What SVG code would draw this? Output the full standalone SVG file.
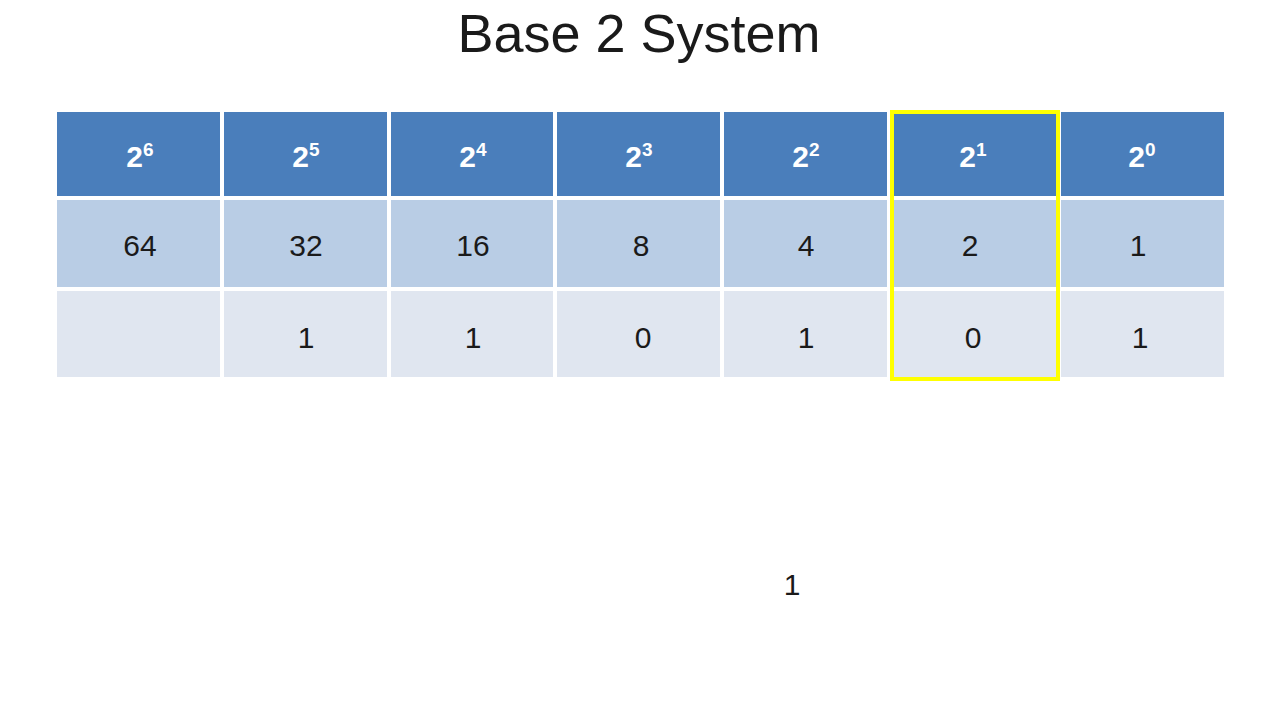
<svg xmlns="http://www.w3.org/2000/svg" width="1280" height="720" viewBox="0 0 1280 720">
<style>
.h{fill:#4a7ebb}.m{fill:#b9cde5}.l{fill:#e0e6f0}
.ht{font-family:"Liberation Sans",Arial,sans-serif;font-size:30px;font-weight:bold;fill:#fff;text-anchor:middle}
.hs{font-size:19px}
.t{font-family:"Liberation Sans",Arial,sans-serif;font-size:30px;fill:#1a1a1a;text-anchor:middle}
</style>
<rect width="1280" height="720" fill="#fff"/>
<text x="639" y="52" class="t" style="font-size:54px">Base 2 System</text>
<g id="table">
<g id="c6"><rect class="h" x="57" y="112" width="163" height="84"/><rect class="m" x="57" y="200" width="163" height="87"/><rect class="l" x="57" y="291" width="163" height="86"/><text x="140" y="167" class="ht">2<tspan class="hs" dy="-11">6</tspan></text><text x="140" y="256" class="t">64</text></g>
<g id="c5"><rect class="h" x="224" y="112" width="163" height="84"/><rect class="m" x="224" y="200" width="163" height="87"/><rect class="l" x="224" y="291" width="163" height="86"/><text x="306" y="167" class="ht">2<tspan class="hs" dy="-11">5</tspan></text><text x="306" y="256" class="t">32</text><text x="306" y="348" class="t">1</text></g>
<g id="c4"><rect class="h" x="391" y="112" width="162" height="84"/><rect class="m" x="391" y="200" width="162" height="87"/><rect class="l" x="391" y="291" width="162" height="86"/><text x="473" y="167" class="ht">2<tspan class="hs" dy="-11">4</tspan></text><text x="473" y="256" class="t">16</text><text x="473" y="348" class="t">1</text></g>
<g id="c3"><rect class="h" x="557" y="112" width="163" height="84"/><rect class="m" x="557" y="200" width="163" height="87"/><rect class="l" x="557" y="291" width="163" height="86"/><text x="639" y="167" class="ht">2<tspan class="hs" dy="-11">3</tspan></text><text x="641" y="256" class="t">8</text><text x="643" y="348" class="t">0</text></g>
<g id="c2"><rect class="h" x="724" y="112" width="163" height="84"/><rect class="m" x="724" y="200" width="163" height="87"/><rect class="l" x="724" y="291" width="163" height="86"/><text x="806" y="167" class="ht">2<tspan class="hs" dy="-11">2</tspan></text><text x="806" y="256" class="t">4</text><text x="806" y="348" class="t">1</text></g>
<g id="c1"><rect class="h" x="891" y="112" width="166" height="84"/><rect class="m" x="891" y="200" width="166" height="87"/><rect class="l" x="891" y="291" width="166" height="86"/><text x="973" y="167" class="ht">2<tspan class="hs" dy="-11">1</tspan></text><text x="970" y="256" class="t">2</text><text x="973" y="348" class="t">0</text></g>
<g id="c0"><rect class="h" x="1061" y="112" width="163" height="84"/><rect class="m" x="1061" y="200" width="163" height="87"/><rect class="l" x="1061" y="291" width="163" height="86"/><text x="1142" y="167" class="ht">2<tspan class="hs" dy="-11">0</tspan></text><text x="1138" y="256" class="t">1</text><text x="1140" y="348" class="t">1</text></g>
</g>
<rect id="highlight" x="892" y="112" width="166" height="267" fill="none" stroke="#ffff00" stroke-width="4"/>
<text x="792" y="595" class="t">1</text>
</svg>
